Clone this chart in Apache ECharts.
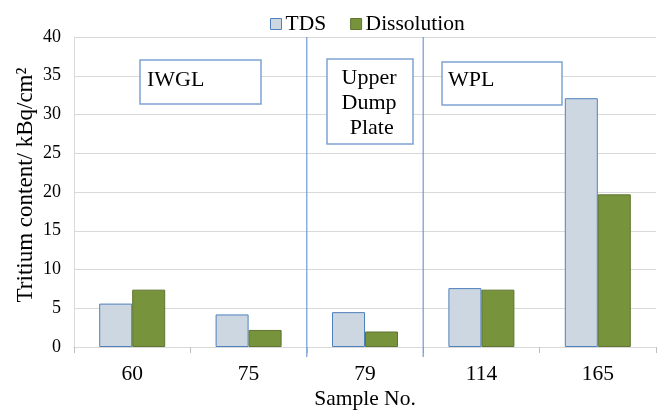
<!DOCTYPE html>
<html>
<head>
<meta charset="utf-8">
<script src="https://cdn.jsdelivr.net/npm/echarts@6/dist/echarts.min.js"></script>
<style>html,body{margin:0;padding:0;background:#fff}#c{width:662px;height:412px}</style>
</head>
<body>
<div id="c"></div>
<script>
const categories = ['60', '75', '79', '114', '165'];
const tdsValues = [5.6, 4.2, 4.5, 7.6, 32.1];
const dissolutionValues = [7.4, 2.2, 2.0, 7.4, 19.7];
const yTicks = [0, 5, 10, 15, 20, 25, 30, 35, 40];
const groupLabels = ['IWGL', 'Upper\nDump\n Plate', 'WPL'];

const FONT = '"Liberation Serif", "Times New Roman", serif';
const chart = echarts.init(document.getElementById('c'));
chart.setOption({
  animation: false,
  textStyle: { fontFamily: FONT },
  legend: {
    left: 265, top: 8,
    itemWidth: 11, itemHeight: 11, itemGap: 24,
    textStyle: { fontFamily: FONT, fontSize: 21.5, color: '#000', padding: [0, 0, 0, -1] },
    data: [
      { name: 'TDS', icon: 'rect', itemStyle: { color: '#cdd7e2', borderColor: '#4f81bd', borderWidth: 1 } },
      { name: 'Dissolution', icon: 'rect', itemStyle: { color: '#77933c', borderColor: '#5f7530', borderWidth: 1 } }
    ]
  },
  grid: { left: 74, right: 6, top: 37, bottom: 65, containLabel: false, outerBoundsMode: 'none' },
  xAxis: {
    type: 'category', data: categories,
    name: 'Sample No.', nameLocation: 'middle', nameGap: 41, nameMoveOverlap: false,
    nameTextStyle: { fontFamily: FONT, fontSize: 21.5, color: '#000' },
    axisLine: { lineStyle: { color: '#d9d9d9', width: 1 } },
    axisTick: { show: true, length: 6, lineStyle: { color: '#bfbfbf' } },
    axisLabel: { fontFamily: FONT, fontSize: 21.5, color: '#000', margin: 16 },
    splitLine: { show: false }
  },
  yAxis: {
    type: 'value', min: yTicks[0], max: yTicks[yTicks.length - 1], interval: 5,
    name: 'Tritium content/ kBq/cm²', nameLocation: 'middle', nameGap: 37, nameMoveOverlap: false,
    nameTextStyle: { fontFamily: FONT, fontSize: 23, color: '#000', padding: [0, 0, 0, 14] },
    axisLine: { show: true, lineStyle: { color: '#d9d9d9' } },
    axisTick: { show: false },
    axisLabel: { fontFamily: FONT, fontSize: 18, color: '#000', margin: 13 },
    splitLine: { lineStyle: { color: '#d9d9d9', width: 1 } }
  },
  series: [
    { name: 'TDS', type: 'bar', data: tdsValues, barWidth: 33, barGap: '0%',
      itemStyle: { color: '#cdd7e2', borderColor: '#4f81bd', borderWidth: 1 } },
    { name: 'Dissolution', type: 'bar', data: dissolutionValues, barWidth: 33,
      itemStyle: { color: '#77933c', borderColor: '#5f7530', borderWidth: 1 } }
  ]
});

// Separators at category boundaries, computed from the axes
const px = i => chart.convertToPixel({ xAxisIndex: 0 }, categories[i]);
const py = v => chart.convertToPixel({ yAxisIndex: 0 }, v);
const b1 = (px(1) + px(2)) / 2;
const b2 = (px(2) + px(3)) / 2;
const yTop = py(40), yBot = py(0);
const lineStyle = { stroke: '#6f9bd1', lineWidth: 1.2 };
const boxStyle = { fill: '#fff', stroke: '#7ea3d4', lineWidth: 1.5 };
const txt = { fontFamily: FONT, fontSize: 22, fill: '#000' };
chart.setOption({
  graphic: [
    { type: 'line', shape: { x1: b1, y1: yTop, x2: b1, y2: yBot + 10 }, style: lineStyle, z: 50 },
    { type: 'line', shape: { x1: b2, y1: yTop, x2: b2, y2: yBot + 10 }, style: lineStyle, z: 50 },
    { type: 'rect', shape: { x: 140, y: 60, width: 121, height: 44 }, style: boxStyle, z: 60 },
    { type: 'text', x: 147, y: 80, style: Object.assign({ text: groupLabels[0], verticalAlign: 'middle' }, txt), z: 61 },
    { type: 'rect', shape: { x: 327, y: 59, width: 86, height: 85 }, style: boxStyle, z: 60 },
    { type: 'text', x: 369, y: 103, style: Object.assign({ text: groupLabels[1], align: 'center', verticalAlign: 'middle', lineHeight: 25 }, txt), z: 61 },
    { type: 'rect', shape: { x: 442, y: 62, width: 120, height: 43 }, style: boxStyle, z: 60 },
    { type: 'text', x: 448, y: 80, style: Object.assign({ text: groupLabels[2], verticalAlign: 'middle' }, txt), z: 61 }
  ]
});
</script>
</body>
</html>
